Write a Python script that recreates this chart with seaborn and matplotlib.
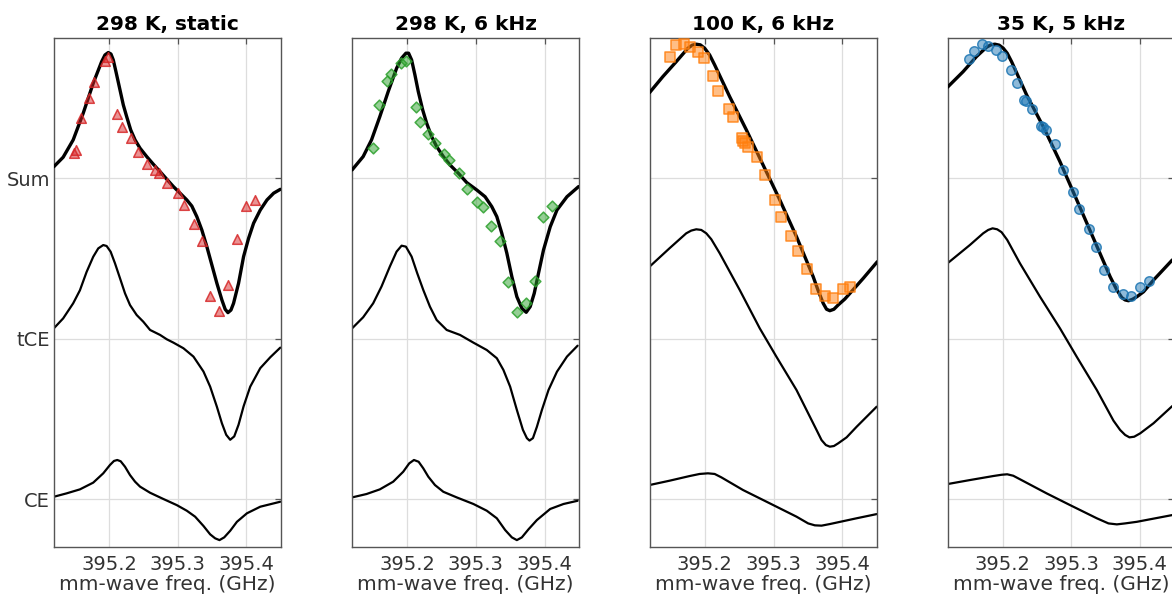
import numpy as np
import pandas as pd
import matplotlib
matplotlib.use("Agg")
import matplotlib.pyplot as plt
import seaborn as sns
from matplotlib.colors import to_rgba

# ---------------- data ----------------
titles = ["298 K, static", "298 K, 6 kHz", "100 K, 6 kHz", "35 K, 5 kHz"]
ytick_labels = ["CE", "tCE", "Sum"]
offsets = [0, 1, 2]
xticks = [395.2, 395.3, 395.4]
xlim = (395.12, 395.45)

# Panel 1: 298 K, static
p1_sum_f = [395.1197, 395.1333, 395.1479, 395.1625, 395.1771, 395.1893, 395.1942, 395.1990, 395.2029,
            395.2063, 395.2102, 395.2161, 395.2209, 395.2258, 395.2317, 395.2380, 395.2453, 395.2550,
            395.2647, 395.2745, 395.2842, 395.2939, 395.3036, 395.3134, 395.3207, 395.3280, 395.3353,
            395.3426, 395.3499, 395.3572, 395.3645, 395.3693, 395.3733, 395.3777, 395.3815, 395.3888,
            395.3961, 395.4034, 395.4107, 395.4204, 395.4302, 395.4399, 395.4496]
p1_sum_v = [0.072, 0.131, 0.239, 0.405, 0.592, 0.726, 0.768, 0.783, 0.774, 0.737, 0.664, 0.550, 0.457,
            0.384, 0.301, 0.239, 0.187, 0.135, 0.087, 0.041, -0.006, -0.052, -0.093, -0.135, -0.173,
            -0.239, -0.322, -0.426, -0.540, -0.654, -0.758, -0.816, -0.837, -0.821, -0.779, -0.654,
            -0.488, -0.374, -0.280, -0.198, -0.135, -0.093, -0.069]
p1_tce_f = [395.1197, 395.1333, 395.1479, 395.1577, 395.1674, 395.1771, 395.1844, 395.1917, 395.1966,
            395.2025, 395.2088, 395.2161, 395.2234, 395.2307, 395.2404, 395.2501, 395.2599, 395.2745,
            395.2842, 395.2939, 395.3085, 395.3231, 395.3377, 395.3474, 395.3572, 395.3645, 395.3708,
            395.3766, 395.3825, 395.3888, 395.3961, 395.4058, 395.4204, 395.4350, 395.4496]
p1_tce_v = [0.065, 0.127, 0.221, 0.302, 0.416, 0.511, 0.563, 0.584, 0.578, 0.542, 0.470, 0.377, 0.283,
            0.210, 0.148, 0.106, 0.055, 0.024, -0.003, -0.024, -0.059, -0.111, -0.204, -0.298, -0.423,
            -0.526, -0.598, -0.629, -0.608, -0.535, -0.421, -0.298, -0.183, -0.115, -0.055]
p1_ce_f = [395.1197, 395.1382, 395.1577, 395.1771, 395.1917, 395.2015, 395.2073, 395.2121, 395.2171,
           395.2234, 395.2307, 395.2380, 395.2453, 395.2599, 395.2793, 395.2988, 395.3134, 395.3255,
           395.3377, 395.3474, 395.3547, 395.3610, 395.3679, 395.3766, 395.3864, 395.4010, 395.4204,
           395.4496]
p1_ce_v = [0.016, 0.037, 0.062, 0.104, 0.162, 0.214, 0.239, 0.245, 0.237, 0.203, 0.151, 0.110, 0.079,
           0.041, 0.002, -0.036, -0.071, -0.108, -0.166, -0.218, -0.243, -0.254, -0.237, -0.196, -0.140,
           -0.087, -0.046, -0.015]
p1_pts_f = [395.1489, 395.1518, 395.1587, 395.1704, 395.1785, 395.1942, 395.1990, 395.2121, 395.2190,
            395.2326, 395.2423, 395.2550, 395.2672, 395.2734, 395.2851, 395.3003, 395.3099, 395.3241,
            395.3353, 395.3474, 395.3601, 395.3733, 395.3864, 395.3996, 395.4121]
p1_pts_v = [0.158, 0.176, 0.374, 0.502, 0.598, 0.733, 0.758, 0.399, 0.318, 0.249, 0.162, 0.087, 0.052,
            0.035, -0.031, -0.093, -0.164, -0.287, -0.391, -0.731, -0.827, -0.665, -0.380, -0.171, -0.135]

# Panel 2: 298 K, 6 kHz
p2_sum_f = [395.1197, 395.1358, 395.1480, 395.1601, 395.1723, 395.1845, 395.1918, 395.1981, 395.2020,
            395.2064, 395.2112, 395.2161, 395.2225, 395.2283, 395.2356, 395.2429, 395.2526, 395.2623,
            395.2745, 395.2867, 395.3013, 395.3134, 395.3232, 395.3305, 395.3378, 395.3451, 395.3524,
            395.3597, 395.3670, 395.3733, 395.3791, 395.3850, 395.3912, 395.3985, 395.4083, 395.4181,
            395.4327, 395.4496]
p2_sum_v = [0.052, 0.135, 0.239, 0.384, 0.540, 0.685, 0.748, 0.779, 0.779, 0.737, 0.644, 0.540, 0.426,
            0.343, 0.259, 0.197, 0.135, 0.083, 0.031, -0.027, -0.073, -0.115, -0.177, -0.239, -0.343,
            -0.467, -0.613, -0.738, -0.810, -0.835, -0.800, -0.717, -0.592, -0.447, -0.302, -0.198,
            -0.115, -0.052]
p2_tce_f = [395.1197, 395.1358, 395.1504, 395.1626, 395.1747, 395.1845, 395.1918, 395.1981, 395.2064,
            395.2146, 395.2234, 395.2331, 395.2429, 395.2575, 395.2769, 395.2964, 395.3159, 395.3305,
            395.3401, 395.3499, 395.3597, 395.3685, 395.3743, 395.3781, 395.3831, 395.3889, 395.3962,
            395.4058, 395.4181, 395.4327, 395.4482]
p2_tce_v = [0.065, 0.134, 0.221, 0.326, 0.450, 0.543, 0.580, 0.574, 0.512, 0.408, 0.304, 0.200, 0.117,
            0.055, 0.024, -0.024, -0.070, -0.121, -0.194, -0.298, -0.443, -0.567, -0.619, -0.634,
            -0.619, -0.548, -0.443, -0.319, -0.205, -0.111, -0.043]
p2_ce_f = [395.1197, 395.1407, 395.1601, 395.1796, 395.1942, 395.2029, 395.2098, 395.2166, 395.2234,
           395.2307, 395.2404, 395.2526, 395.2721, 395.2964, 395.3159, 395.3305, 395.3426, 395.3524,
           395.3597, 395.3670, 395.3766, 395.3889, 395.4083, 395.4277, 395.4482]
p2_ce_v = [0.012, 0.033, 0.062, 0.110, 0.172, 0.224, 0.245, 0.234, 0.193, 0.141, 0.089, 0.047, 0.012,
           -0.029, -0.071, -0.118, -0.191, -0.237, -0.254, -0.237, -0.187, -0.129, -0.060, -0.029, -0.009]
p2_pts_f = [395.1504, 395.1582, 395.1699, 395.1762, 395.1908, 395.1981, 395.2123, 395.2185, 395.2307,
            395.2404, 395.2536, 395.2613, 395.2755, 395.2867, 395.3013, 395.3105, 395.3226, 395.3349,
            395.3474, 395.3597, 395.3728, 395.3854, 395.3985, 395.4112]
p2_pts_v = [0.190, 0.454, 0.606, 0.650, 0.717, 0.733, 0.442, 0.353, 0.274, 0.218, 0.151, 0.114, 0.031,
            -0.069, -0.146, -0.181, -0.297, -0.391, -0.645, -0.836, -0.779, -0.640, -0.239, -0.173]

# Panel 3: 100 K, 6 kHz
p3_sum_f = [395.1193, 395.1387, 395.1582, 395.1752, 395.1816, 395.1874, 395.1933, 395.1996, 395.2069,
            395.2142, 395.2361, 395.2604, 395.2847, 395.3091, 395.3334, 395.3577, 395.3650, 395.3723,
            395.3772, 395.3820, 395.3879, 395.3942, 395.4039, 395.4112, 395.4307, 395.4511]
p3_sum_v = [0.533, 0.633, 0.726, 0.810, 0.829, 0.835, 0.831, 0.810, 0.768, 0.706, 0.508, 0.301, 0.083,
            -0.135, -0.364, -0.613, -0.700, -0.779, -0.816, -0.825, -0.816, -0.789, -0.752, -0.717,
            -0.623, -0.520]
p3_tce_f = [395.1193, 395.1485, 395.1728, 395.1801, 395.1874, 395.1947, 395.2020, 395.2093, 395.2215,
            395.2507, 395.2799, 395.3042, 395.3334, 395.3626, 395.3699, 395.3762, 395.3820, 395.3879,
            395.3942, 395.4064, 395.4210, 395.4502]
p3_tce_v = [0.449, 0.564, 0.657, 0.674, 0.682, 0.678, 0.657, 0.620, 0.533, 0.304, 0.065, -0.112, -0.319,
            -0.568, -0.631, -0.662, -0.672, -0.668, -0.651, -0.614, -0.548, -0.423]
p3_ce_f = [395.1193, 395.1485, 395.1777, 395.1923, 395.2044, 395.2142, 395.2239, 395.2555, 395.2945,
           395.3334, 395.3504, 395.3601, 395.3699, 395.3820, 395.4210, 395.4502]
p3_ce_v = [0.089, 0.116, 0.145, 0.158, 0.162, 0.158, 0.137, 0.058, -0.025, -0.108, -0.150, -0.162,
           -0.164, -0.154, -0.118, -0.092]
p3_pts_f = [395.1495, 395.1582, 395.1693, 395.1787, 395.1898, 395.1981, 395.2117, 395.2190, 395.2346,
            395.2409, 395.2540, 395.2555, 395.2580, 395.2628, 395.2759, 395.2872, 395.3018, 395.3105,
            395.3261, 395.3358, 395.3489, 395.3616, 395.3747, 395.3860, 395.4006, 395.4112]
p3_pts_v = [0.758, 0.830, 0.835, 0.820, 0.785, 0.751, 0.639, 0.544, 0.430, 0.384, 0.253, 0.234, 0.222,
            0.197, 0.135, 0.020, -0.135, -0.243, -0.360, -0.456, -0.567, -0.689, -0.731, -0.744, -0.689, -0.679]

# Panel 4: 35 K, 5 kHz
p4_sum_f = [395.1197, 395.1425, 395.1620, 395.1766, 395.1829, 395.1888, 395.1950, 395.2009, 395.2067,
            395.2131, 395.2350, 395.2593, 395.2836, 395.3080, 395.3323, 395.3566, 395.3664, 395.3737,
            395.3785, 395.3834, 395.3892, 395.3956, 395.4053, 395.4199, 395.4472]
p4_sum_v = [0.567, 0.664, 0.758, 0.816, 0.831, 0.835, 0.829, 0.810, 0.779, 0.726, 0.519, 0.321, 0.103,
            -0.135, -0.374, -0.613, -0.696, -0.744, -0.758, -0.763, -0.754, -0.738, -0.707, -0.634, -0.509]
p4_tce_f = [395.1197, 395.1523, 395.1717, 395.1790, 395.1854, 395.1921, 395.1985, 395.2067, 395.2253,
            395.2545, 395.2836, 395.3080, 395.3372, 395.3615, 395.3712, 395.3785, 395.3848, 395.3917,
            395.4004, 395.4199, 395.4472]
p4_tce_v = [0.470, 0.584, 0.657, 0.678, 0.688, 0.682, 0.664, 0.616, 0.470, 0.262, 0.065, -0.112, -0.319,
            -0.510, -0.568, -0.599, -0.614, -0.610, -0.589, -0.526, -0.419]
p4_ce_f = [395.1197, 395.1523, 395.1863, 395.1985, 395.2067, 395.2155, 395.2253, 395.2642, 395.2983,
           395.3372, 395.3542, 395.3664, 395.3785, 395.3956, 395.4472]
p4_ce_v = [0.095, 0.120, 0.145, 0.153, 0.156, 0.147, 0.125, 0.037, -0.036, -0.118, -0.150, -0.156,
           -0.150, -0.140, -0.098]
p4_pts_f = [395.1508, 395.1585, 395.1702, 395.1781, 395.1902, 395.1985, 395.2121, 395.2204, 395.2315,
            395.2340, 395.2423, 395.2555, 395.2593, 395.2632, 395.2764, 395.2885, 395.3031, 395.3118,
            395.3260, 395.3358, 395.3483, 395.3606, 395.3752, 395.3869, 395.4004, 395.4136]
p4_pts_v = [0.741, 0.795, 0.835, 0.824, 0.799, 0.764, 0.675, 0.592, 0.488, 0.484, 0.430, 0.328, 0.321,
            0.300, 0.211, 0.052, -0.087, -0.193, -0.318, -0.426, -0.571, -0.675, -0.719, -0.731, -0.675, -0.640]

panels = [
    (p1_sum_f, p1_sum_v, p1_tce_f, p1_tce_v, p1_ce_f, p1_ce_v, p1_pts_f, p1_pts_v),
    (p2_sum_f, p2_sum_v, p2_tce_f, p2_tce_v, p2_ce_f, p2_ce_v, p2_pts_f, p2_pts_v),
    (p3_sum_f, p3_sum_v, p3_tce_f, p3_tce_v, p3_ce_f, p3_ce_v, p3_pts_f, p3_pts_v),
    (p4_sum_f, p4_sum_v, p4_tce_f, p4_tce_v, p4_ce_f, p4_ce_v, p4_pts_f, p4_pts_v),
]
marker_styles = ["^", "D", "s", "o"]
marker_colors = ["#d62728", "#2ca02c", "#ff7f0e", "#1f77b4"]
marker_sizes = [48, 30, 42, 46]

# ---------------- style ----------------
sns.set_theme(style="white")
plt.rcParams["font.family"] = ["DejaVu Sans"]

fig = plt.figure(figsize=(11.72, 5.95), dpi=100)
lefts = [0.0461, 0.3006, 0.5546, 0.8086]
width = 0.1933
bottom = 0.0812
height = 0.8545

for i, (sf, sv, tf, tv, cf, cv, pf, pv) in enumerate(panels):
    ax = fig.add_axes([lefts[i], bottom, width, height])
    ax.set_facecolor("white")
    ax.grid(True, color="#dddddd", linewidth=0.9)
    ax.set_axisbelow(True)

    sns.lineplot(x=cf, y=np.array(cv) + offsets[0], ax=ax, color="black", linewidth=1.6,
                 sort=False, estimator=None)
    sns.lineplot(x=tf, y=np.array(tv) + offsets[1], ax=ax, color="black", linewidth=1.6,
                 sort=False, estimator=None)
    sns.lineplot(x=sf, y=np.array(sv) + offsets[2], ax=ax, color="black", linewidth=2.4,
                 sort=False, estimator=None, zorder=3)
    col = marker_colors[i]
    sns.scatterplot(x=pf, y=np.array(pv) + offsets[2], ax=ax, marker=marker_styles[i],
                    s=marker_sizes[i], color=to_rgba(col, 0.5), edgecolor=to_rgba(col, 0.85),
                    linewidth=1.1, zorder=4)

    ax.set_xlim(*xlim)
    ax.set_ylim(-0.295, 2.872)
    ax.set_xticks(xticks)
    ax.set_xticklabels([f"{t:.1f}" for t in xticks])
    ax.set_yticks(offsets)
    if i == 0:
        ax.set_yticklabels(ytick_labels)
    else:
        ax.set_yticklabels([])
    ax.tick_params(direction="in", length=4, width=0.9, color="#555555", top=True, right=True,
                   labelsize=14, labelcolor="#333333")
    ax.tick_params(axis="x", pad=6)
    ax.tick_params(axis="y", pad=3)
    for sp in ax.spines.values():
        sp.set_color("#555555")
        sp.set_linewidth(1.0)
    ax.set_xlabel("mm-wave freq. (GHz)", fontsize=14.5, color="#333333", labelpad=1)
    ax.set_ylabel("")
    ax.set_title(titles[i], fontsize=14.5, fontweight="bold", color="black", pad=6)

fig.savefig("out.png", dpi=100)
